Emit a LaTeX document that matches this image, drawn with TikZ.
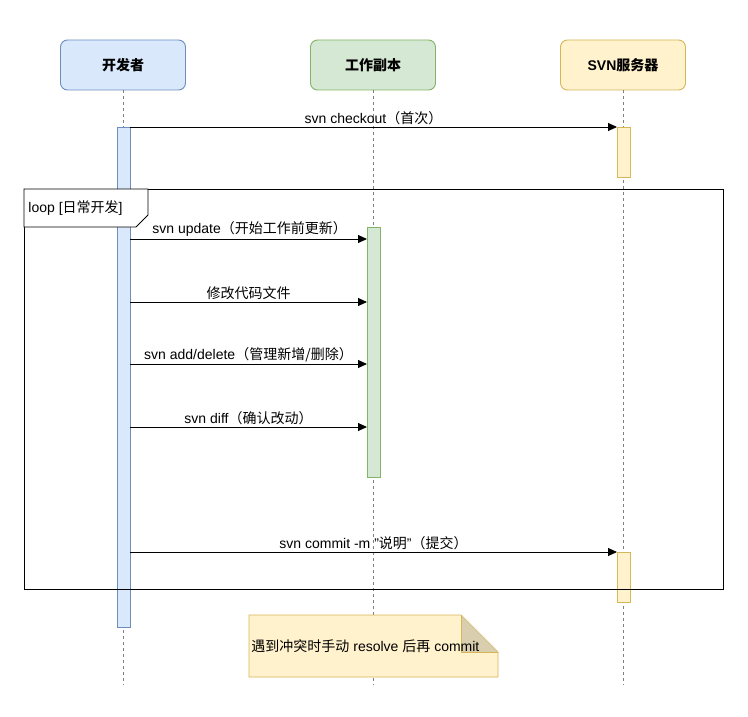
\documentclass[tikz,border=0pt]{standalone}
\usepackage{fontspec}
\setmainfont{Liberation Sans}
\newfontfamily\cjk{Noto Sans CJK SC}
\usetikzlibrary{arrows.meta, positioning}
\definecolor{blueF}{HTML}{DAE8FC}\definecolor{blueD}{HTML}{6C8EBF}
\definecolor{greenF}{HTML}{D5E8D4}\definecolor{greenD}{HTML}{82B366}
\definecolor{yellowF}{HTML}{FFF2CC}\definecolor{yellowD}{HTML}{D6B656}

\begin{document}
\begin{tikzpicture}[x=1pt,y=-1pt,>={Triangle[length=9pt,width=8pt]},
  font=\fontsize{14}{16}\selectfont, line width=0.9pt,
  head/.style={draw, rounded corners=7pt, minimum width=125pt, minimum height=50pt, font=\fontsize{14}{16}\selectfont\bfseries},
  life/.style={draw=gray, dashed, line width=0.7pt},
  act/.style={draw, minimum width=13pt, inner sep=0pt},
  msg/.style={->},
  lbl/.style={above, inner sep=2pt}]
\useasboundingbox (0,0) rectangle (748,717);
% define the lifelines
  \node[head, fill=blueF, draw=blueD]     (dev) at (123,65) {{\cjk 开发者}};
  \node[head, fill=greenF, draw=greenD]   (wc)  at (373,65) {{\cjk 工作副本}};
  \node[head, fill=yellowF, draw=yellowD] (svn) at (623,65) {SVN{\cjk 服务器}};
  \coordinate (devE) at (123,685); \coordinate (wcE) at (373,685); \coordinate (svnE) at (623,685);
  \draw[life] (dev) -- (devE);
  \draw[life] (wc) -- (wcE);
  \draw[life] (svn) -- (svnE);

% activation bars
  \node[act, fill=blueF, draw=blueD, minimum height=500pt]   (aDev) at (123.5,377) {};
  \node[act, fill=greenF, draw=greenD, minimum height=250pt] (aWc)  at (373.5,352) {};
  \node[act, fill=yellowF, draw=yellowD, minimum height=50pt] (aSvn1) at (623.5,152) {};
  \node[act, fill=yellowF, draw=yellowD, minimum height=50pt] (aSvn2) at (623.5,577) {};

% loop frame
  \draw (24,189) rectangle (723,589);
  \draw[fill=white] (24,189) -- (148,189) -- (148,215) -- (136,227) -- (24,227) -- cycle;
  \node[anchor=west, inner sep=0pt] (loop) at (28,208) {loop [{\cjk 日常开发}]};

% define the messages
  \coordinate (m1a) at (130,127);  \coordinate (m1b) at (617,127);
  \coordinate (m2a) at (130,239);  \coordinate (m2b) at (367,239);
  \coordinate (m3a) at (130,302);  \coordinate (m3b) at (367,302);
  \coordinate (m4a) at (130,364);  \coordinate (m4b) at (367,364);
  \coordinate (m5a) at (130,427);  \coordinate (m5b) at (367,427);
  \coordinate (m6a) at (130,552);  \coordinate (m6b) at (617,552);
  \draw[msg] (m1a) -- node[lbl] {svn checkout{\cjk （首次）}} (m1b);
  \draw[msg] (m2a) -- (m2b);
  \node[above right, inner sep=2pt] (l2) at (150,239) {svn update{\cjk （开始工作前更新）}};
  \draw[msg] (m3a) -- node[lbl] {{\cjk 修改代码文件}} (m3b);
  \draw[msg] (m4a) -- node[lbl] {svn add/delete{\cjk （管理新增/删除）}} (m4b);
  \draw[msg] (m5a) -- node[lbl] {svn diff{\cjk （确认改动）}} (m5b);
  \draw[msg] (m6a) -- node[lbl] {svn commit -m \symbol{34}{\cjk 说明}\symbol{34}{\cjk （提交）}} (m6b);

% note
  \draw[fill=yellowF, draw=yellowD] (249,615) -- (461,615) -- (498,652) -- (498,677) -- (249,677) -- cycle;
  \draw[draw=yellowD, fill=yellowF!85!black] (461,615) -- (461,652) -- (498,652);
  \node[anchor=west, inner sep=0pt] (note) at (251,646) {{\cjk 遇到冲突时手动} resolve {\cjk 后再} commit};
\end{tikzpicture}
\end{document}
